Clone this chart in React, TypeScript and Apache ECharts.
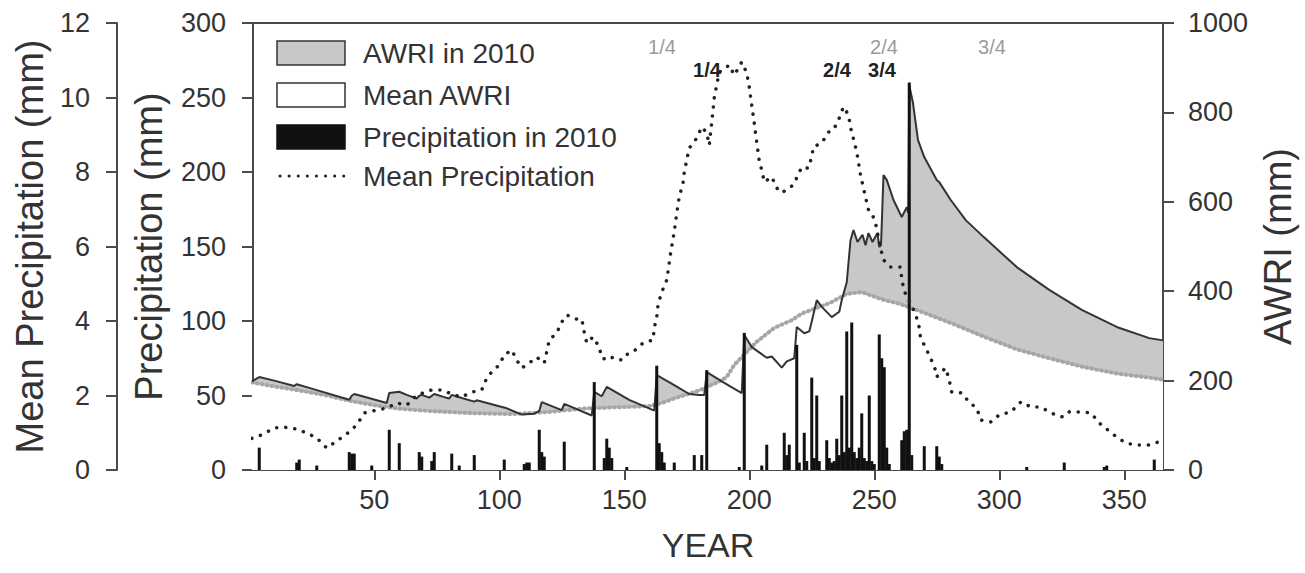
import React, { useEffect, useRef } from "react";
import * as echarts from "echarts";

// ---------- data ----------
const xTicks = [50, 100, 150, 200, 250, 300, 350];

// AWRI in 2010 (mm), [day, value]
const awri2010: [number, number][] = [
  [1, 198], [4, 208], [10, 200], [18, 188], [19, 192], [25, 182], [40, 157], [41, 166], [42, 170],
  [55, 150], [56, 172], [60, 175], [63, 168], [67, 160], [68, 166], [69, 168], [72, 162], [74, 170],
  [78, 163], [80, 160], [81, 168], [85, 161], [90, 153], [91, 156], [103, 138], [109, 124], [114, 126],
  [116, 132], [117, 152], [125, 134], [126, 148], [137, 122], [138, 175], [141, 165], [143, 186],
  [152, 157], [162, 133], [163, 212], [170, 190], [176, 170], [180, 168], [182, 168], [183, 219],
  [190, 195], [197, 172], [198, 302], [201, 275], [207, 251], [209, 254], [213, 229], [215, 243],
  [218, 250], [219, 320], [222, 306], [224, 310], [225, 332], [227, 380], [229, 365], [233, 342],
  [236, 354], [237, 380], [239, 420], [240.5, 514], [241.7, 537], [243.3, 510], [245.3, 526],
  [246.5, 503], [247.7, 530], [249.3, 510], [251.3, 530], [252, 499], [252.7, 503], [253.7, 660],
  [255, 649], [257.7, 604], [261, 566], [263, 588], [263.6, 575], [264, 861], [265.5, 821],
  [267.5, 738], [270, 700], [275, 649], [276, 644], [280.6, 604], [286.6, 559], [293.8, 521],
  [307, 454], [320, 403], [333, 358], [347, 320], [360, 295], [365.5, 290],
];

// Mean AWRI (mm)
const meanAwri: [number, number][] = [
  [1, 196], [10, 187], [20, 178], [30, 168], [40, 155], [50, 145], [60, 137], [75, 131], [90, 127],
  [105, 125], [120, 130], [135, 138], [150, 141], [160, 143], [165, 150], [170, 160], [180, 178],
  [188, 198], [191, 208], [194, 235], [200, 270], [203, 287], [210, 318], [217, 335], [221, 350],
  [232, 373], [239, 394], [245, 398], [254, 380], [260, 372], [267, 358], [281, 328], [294, 298],
  [307, 270], [320, 250], [334, 230], [348, 215], [361, 206], [365.5, 202],
];

// Precipitation in 2010 (mm)
const precip2010: [number, number][] = [
  [4, 15], [19, 5], [20, 7], [27, 3], [40, 12], [41, 11], [42, 11], [49, 3], [56, 27], [60, 18],
  [68, 12], [69, 9], [73, 6], [74, 12], [81, 11], [84, 3], [90, 10], [102, 7], [110, 4], [111, 5],
  [112, 5], [116, 27], [117, 12], [118, 9], [126, 19], [138, 59], [142, 8], [143, 21], [144, 15],
  [145, 8], [151, 2], [163, 70], [164, 18], [165, 12], [166, 5], [170, 5], [178, 10], [181, 10],
  [183, 67], [196, 2], [198, 92], [205, 3], [207, 17], [214, 25], [215, 10], [216, 17], [219, 84],
  [220, 5], [222, 25], [223, 6], [225, 62], [226, 8], [227, 50], [228, 6], [231, 20], [232, 8],
  [233, 5], [234, 6], [235, 21], [236, 10], [237, 50], [238, 12], [239, 93], [240, 15], [241, 99],
  [242, 12], [243, 8], [244, 15], [245, 38], [246, 8], [247, 6], [248, 50], [249, 6], [250, 4],
  [252, 91], [253, 75], [254, 69], [255, 15], [256, 4], [261, 20], [262, 26], [263, 27], [264, 260],
  [265, 10], [270, 16], [275, 16], [276, 9], [277, 4], [311, 2], [326, 5], [342, 2], [343, 3],
  [362, 7],
];

// Mean precipitation (mm)
const meanPrecip: [number, number][] = [
  [1, 0.85], [5, 0.94], [10, 1.13], [14, 1.15], [19, 1.1], [23, 0.99], [27, 0.86], [31, 0.59],
  [35, 0.78], [39, 0.97], [43, 1.21], [46, 1.53], [51, 1.61], [55, 1.66], [59, 1.8], [63, 1.74],
  [67, 2.01], [73, 2.15], [77, 2.15], [82, 2.01], [85, 1.96], [89, 2.09], [93, 2.15], [95, 2.47],
  [97, 2.63], [100, 2.82], [102, 3.09], [105, 3.22], [107, 2.95], [109, 2.74], [111, 2.82],
  [115, 3.03], [118, 2.87], [119, 3.17], [120, 3.49], [123, 3.68], [125, 3.97], [127, 4.16],
  [131, 4.05], [133, 4.05], [134, 3.7], [135, 3.41], [137.5, 3.57], [140, 3.3], [141, 3.01],
  [143.5, 2.95], [145.5, 3.03], [149, 2.95], [151, 3.1], [153.5, 3.17], [157.5, 3.41], [161.5, 3.49],
  [162, 3.81], [163, 4.11], [163.5, 4.43], [165, 4.78], [167, 5.1], [168.5, 5.8], [170, 6.4],
  [171, 6.9], [172, 7.33], [173.5, 7.7], [174, 8.0], [175, 8.32], [176, 8.64], [179, 8.91],
  [181, 9.21], [183, 9.05], [184, 8.72], [185, 9.34], [186, 9.99], [187, 10.34], [188, 10.68],
  [192, 10.87], [194, 10.6], [197, 10.95], [199, 10.66], [200, 10.28], [201, 9.8], [202, 9.32],
  [203, 8.8], [204, 8.3], [205, 8.05], [206, 7.73], [209, 7.87], [211, 7.57], [213, 7.44],
  [217.6, 7.65], [221, 8.13], [223.6, 8.1], [225, 8.4], [225.6, 8.67], [229, 8.78], [231.7, 9.07],
  [233.7, 9.13], [236, 9.45], [237.7, 9.75], [239.7, 9.53], [240.5, 9.2], [241.8, 8.86], [243, 8.54],
  [244.5, 7.92], [246.5, 7.33], [247.7, 6.98], [249, 6.9], [250.5, 6.63], [252.5, 5.96], [253.7, 5.64],
  [256.5, 5.45], [260.5, 5.45], [261, 5.15], [261.8, 4.83], [265.7, 4.3], [267.7, 3.95], [268.5, 3.57],
  [270.5, 3.28], [272.5, 3.01], [274.5, 2.68], [275, 2.5], [278.5, 2.74], [279.8, 2.47], [281, 2.09],
  [285, 2.07], [287.8, 1.83], [291, 1.66], [292.6, 1.34], [296.6, 1.29], [300, 1.48], [304.7, 1.56],
  [308.7, 1.83], [312.7, 1.69], [316.7, 1.69], [320.7, 1.53], [325.5, 1.42], [328, 1.56],
  [332.7, 1.56], [336.7, 1.53], [340, 1.26], [343.5, 1.07], [346.8, 0.89], [350.8, 0.72],
  [354.8, 0.67], [359.6, 0.67], [363.6, 0.75], [365.5, 0.75],
];

const legendNames = ["AWRI in 2010", "Mean AWRI", "Precipitation in 2010", "Mean Precipitation"];
const grayMarks = ["1/4", "2/4", "3/4"];
const blackMarks = ["1/4", "2/4", "3/4"];

// ---------- styles ----------
const FONT = "'Liberation Sans', Arial, Helvetica, sans-serif";
const AXIS = "#4a4a4a";
const TXT = "#333";

export default function App() {
  const ref = useRef<HTMLDivElement>(null);

  useEffect(() => {
    if (!ref.current) return;
    const chart = echarts.init(ref.current, null, { renderer: "svg" });

    const plain = (v: number) => String(v);
    const yAxisBase = (extra: any) => ({
      type: "value",
      nameLocation: "middle",
      nameTextStyle: { fontSize: 38, color: TXT, fontFamily: FONT },
      axisLine: { show: true, lineStyle: { color: AXIS, width: 2 } },
      axisTick: { show: true, length: 11, lineStyle: { color: AXIS, width: 2 } },
      splitLine: { show: false },
      ...extra,
    });

    const legendY = [53, 95, 137, 176];
    const graphic: any[] = [
      { type: "rect", shape: { x: 277, y: 41, width: 68, height: 24 }, style: { fill: "#c8c8c8", stroke: "#333", lineWidth: 1.5 } },
      { type: "rect", shape: { x: 277, y: 83, width: 68, height: 24 }, style: { fill: "#fff", stroke: "#333", lineWidth: 1.5 } },
      { type: "rect", shape: { x: 277, y: 125, width: 68, height: 24 }, style: { fill: "#111", stroke: "#111", lineWidth: 1.5 } },
      { type: "line", shape: { x1: 280, y1: 176, x2: 344, y2: 176 }, style: { stroke: "#222", lineWidth: 3, lineDash: [0.1, 9], lineCap: "round" } },
      ...legendNames.map((t, i) => ({
        type: "text", x: 363, y: legendY[i],
        style: { text: t, fontSize: 28, fontFamily: FONT, fill: TXT, verticalAlign: "middle", align: "left" },
      })),
      ...grayMarks.map((t, i) => ({
        type: "text", x: [662, 884, 992][i], y: 47,
        style: { text: t, fontSize: 20, fontFamily: FONT, fill: "#9a9a9a", verticalAlign: "middle", align: "center" },
      })),
      ...blackMarks.map((t, i) => ({
        type: "text", x: [707, 837, 882][i], y: 70,
        style: { text: t, fontSize: 20, fontWeight: "bold", fontFamily: FONT, fill: "#222", verticalAlign: "middle", align: "center" },
      })),
    ];

    chart.setOption({
      animation: false,
      backgroundColor: "#fff",
      textStyle: { fontFamily: FONT },
      grid: { left: 253, right: 142, top: 23, bottom: 103, show: true, borderColor: AXIS, borderWidth: 2, backgroundColor: "transparent" },
      xAxis: {
        type: "value",
        min: 1.5,
        max: 365.5,
        name: "YEAR",
        nameLocation: "middle",
        nameGap: 58,
        nameTextStyle: { fontSize: 34, color: TXT, fontFamily: FONT },
        axisLine: { show: true, lineStyle: { color: AXIS, width: 2 } },
        axisTick: { show: true, customValues: xTicks, length: 10, lineStyle: { color: AXIS, width: 2 } },
        axisLabel: { customValues: xTicks, fontSize: 27, color: TXT, margin: 16, fontFamily: FONT, formatter: plain },
        splitLine: { show: false },
      },
      yAxis: [
        yAxisBase({ position: "left", min: 0, max: 300, interval: 50, name: "Precipitation (mm)", nameGap: 85, axisLabel: { fontSize: 27, color: TXT, margin: 27, fontFamily: FONT, formatter: plain } }),
        yAxisBase({ position: "left", offset: 136, min: 0, max: 12, interval: 2, name: "Mean Precipitation (mm)", nameGap: 66, axisLabel: { fontSize: 27, color: TXT, margin: 27, fontFamily: FONT, formatter: plain } }),
        yAxisBase({ position: "right", min: 0, max: 1000, interval: 200, name: "AWRI (mm)", nameGap: 93, axisLabel: { fontSize: 27, color: TXT, margin: 25, fontFamily: FONT, formatter: plain } }),
      ],
      series: [
        {
          name: "AWRI in 2010 area",
          type: "line",
          yAxisIndex: 2,
          data: awri2010,
          symbol: "none",
          lineStyle: { width: 0 },
          areaStyle: { color: "#c8c8c8", opacity: 1 },
          z: 1,
        },
        {
          name: "Mean AWRI",
          type: "line",
          yAxisIndex: 2,
          data: meanAwri,
          symbol: "none",
          lineStyle: { color: "#a6a6a6", width: 4, type: [1, 4], cap: "round" },
          areaStyle: { color: "#ffffff", opacity: 1 },
          z: 2,
        },
        {
          name: "AWRI in 2010",
          type: "line",
          yAxisIndex: 2,
          data: awri2010,
          symbol: "none",
          lineStyle: { color: "#333", width: 2 },
          z: 3,
        },
        {
          name: "Precipitation in 2010",
          type: "bar",
          yAxisIndex: 0,
          data: precip2010,
          barWidth: 3,
          itemStyle: { color: "#111" },
          z: 4,
        },
        {
          name: "Mean Precipitation",
          type: "line",
          yAxisIndex: 1,
          data: meanPrecip,
          symbol: "none",
          lineStyle: { color: "#222", width: 3.5, type: [0.1, 9], cap: "round" },
          z: 5,
        },
      ],
      graphic,
    });

    return () => chart.dispose();
  }, []);

  return <div ref={ref} style={{ position: "absolute", left: 0, top: 0, width: 1305, height: 573 }} />;
}
